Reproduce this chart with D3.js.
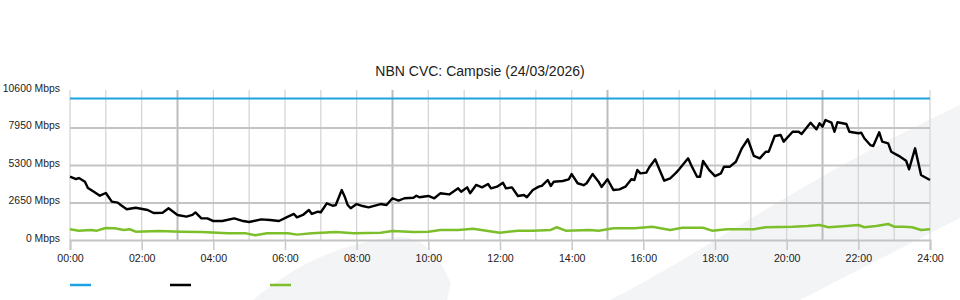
<!DOCTYPE html>
<html>
<head>
<meta charset="utf-8">
<script src="https://cdn.jsdelivr.net/npm/d3@7"></script>
<style>
  body { margin: 0; background: #fff; }
  svg text { font-family: "Liberation Sans", Arial, sans-serif; fill: #222; }
</style>
</head>
<body>
<svg id="chart" width="960" height="300"></svg>
<script>
"use strict";

const chartTitle = "NBN CVC: Campsie (24/03/2026)";

// y ticks in Mbps
const yTicks = [0, 2650, 5300, 7950, 10600];
// hour labels along the bottom
const xLabels = ["00:00", "02:00", "04:00", "06:00", "08:00", "10:00", "12:00",
                 "14:00", "16:00", "18:00", "20:00", "22:00", "24:00"];
const majorHours = [3, 9, 15, 21];

// CVC capacity (blue)
const capTimes = ["00:00", "24:00"];
const capValues = [10000, 10000];

// traffic (black)
const trafficTimes = ["00:00","00:10","00:15","00:25","00:30","00:40","00:50","01:00","01:10","01:20",
  "01:25","01:35","01:50","02:10","02:20","02:35","02:45","03:00","03:15","03:25","03:30","03:40",
  "03:50","04:00","04:15","04:35","04:50","05:00","05:20","05:35","05:50","06:05","06:15","06:20",
  "06:30","06:40","06:45","06:55","07:00","07:10","07:20","07:25","07:35","07:40","07:45","07:50",
  "08:00","08:10","08:20","08:40","08:50","09:00","09:10","09:20","09:35","09:40","09:45","10:00",
  "10:10","10:20","10:35","10:50","10:55","11:05","11:10","11:20","11:30","11:40","11:45","11:55",
  "12:05","12:10","12:20","12:30","12:40","12:45","12:55","13:05","13:10","13:20","13:25","13:30",
  "13:45","13:55","14:00","14:10","14:20","14:25","14:35","14:45","14:50","15:00","15:10","15:20",
  "15:30","15:40","15:45","15:50","15:55","16:05","16:10","16:20","16:25","16:35","16:45","16:55",
  "17:00","17:15","17:20","17:30","17:35","17:40","17:50","18:00","18:10","18:15","18:25","18:35",
  "18:45","18:55","19:05","19:15","19:25","19:30","19:40","19:50","19:55","20:10","20:20","20:25",
  "20:40","20:50","20:55","21:00","21:05","21:15","21:20","21:25","21:40","21:45","22:00","22:05",
  "22:10","22:20","22:25","22:35","22:40","22:50","22:55","23:10","23:20","23:25","23:35","23:45",
  "23:50","24:00"];
const trafficValues = [4470,4310,4380,4120,3680,3410,3130,3320,2710,2640,
  2470,2170,2280,2120,1910,1930,2240,1770,1650,1770,1950,1530,
  1530,1340,1340,1530,1340,1270,1460,1410,1340,1650,1840,1600,
  1770,2120,1840,2000,1960,2590,2420,2470,3530,3060,2470,2240,
  2540,2400,2310,2540,2470,2950,2780,2950,2990,3130,3020,3110,
  2950,3300,3220,3650,3410,3720,3300,3890,3720,3960,3650,3770,
  4050,3650,3720,3110,3180,3020,3530,3770,3820,4240,3820,4120,
  4170,4290,4660,4010,3870,4010,4660,4120,3750,4290,3530,3580,
  3770,4290,4240,4950,4710,4760,5140,5700,5180,4190,4360,4760,
  5000,5770,5300,4470,4470,5580,4950,4520,4710,5180,5180,5530,
  6480,7120,5940,5770,6240,6240,7350,7420,6950,7650,7650,7490,
  8290,7820,8250,8010,8480,8290,7650,8320,8200,7650,7540,7580,
  7190,6710,6640,7610,6950,6830,6240,5890,5600,5000,6480,4590,
  4470,4240];

// second series (green)
const greenTimes = ["00:00","00:15","00:35","00:45","01:00","01:15","01:30","01:40","01:50","02:30",
  "03:05","03:40","04:25","04:55","05:10","05:30","06:05","06:20","06:45","07:25","07:55","08:40",
  "09:00","09:35","10:00","10:20","10:50","11:15","11:40","12:00","12:30","12:55","13:25","13:35",
  "13:50","14:30","14:45","15:10","15:45","16:15","16:45","17:05","17:40","17:55","18:20","19:05",
  "19:25","20:10","20:35","20:55","21:10","21:40","22:00","22:10","22:30","22:50","23:00","23:15",
  "23:30","23:45","24:00"];
const greenValues = [760,660,710,660,850,830,710,760,590,640,
  590,570,470,470,330,470,470,380,470,570,470,520,
  640,570,590,710,710,800,640,520,660,660,710,900,
  660,710,660,830,830,940,710,870,870,660,760,760,
  900,940,990,1060,900,990,1060,900,990,1130,940,940,
  900,710,760];

function toMinutes(s) {
    let parts = s.split(":");
    return +parts[0] * 60 + +parts[1];
}

function zip(times, values) {
    return times.map((t, i) => ({ t: toMinutes(t), v: values[i] }));
}

const svg = d3.select("svg#chart");

// background swooshes
svg.append("path")
    .attr("d", "M610,300 C700,255 800,180 960,105 L960,218 L800,300 Z")
    .attr("fill", "#f3f4f6");
svg.append("path")
    .attr("d", "M253,300 C290,268 340,242 398,237 C420,236 438,252 451,284 L447,300 Z")
    .attr("fill", "#f3f4f6");

const xScale = d3.scaleLinear().domain([0, 1440]).range([70, 930]);
const yScale = d3.scaleLinear().domain([0, 10600]).range([240, 90]);

// vertical hour lines
const hours = d3.range(0, 25);
svg.append("g").selectAll("line")
    .data(hours)
    .join("line")
    .attr("x1", h => xScale(h * 60))
    .attr("x2", h => xScale(h * 60))
    .attr("y1", 90)
    .attr("y2", 240)
    .attr("stroke", h => majorHours.includes(h) ? "#bcbcbc" : "#d2d2d2")
    .attr("stroke-width", h => majorHours.includes(h) ? 2 : 1.2);

// x axis with labels every 2 hours
const xAxis = d3.axisBottom(xScale)
    .tickValues(xLabels.map(toMinutes))
    .tickFormat((d, i) => xLabels[i])
    .tickSize(10)
    .tickPadding(4);
const gx = svg.append("g").attr("transform", "translate(0,240)").call(xAxis);
gx.select(".domain").attr("stroke", "#c4c4c4").attr("stroke-width", 2);
gx.selectAll(".tick line").attr("stroke", "#c8c8c8").attr("stroke-width", 1.5);
gx.selectAll(".tick text").attr("font-size", 10.6).attr("fill", "#222");

// y axis with horizontal grid lines
const yAxis = d3.axisLeft(yScale)
    .tickValues(yTicks)
    .tickFormat(d => d + " Mbps")
    .tickSize(-860)
    .tickPadding(10);
const gy = svg.append("g").attr("transform", "translate(70,0)").call(yAxis);
gy.select(".domain").remove();
gy.selectAll(".tick line")
    .attr("stroke", "#c4c4c4")
    .attr("stroke-width", 2)
    .attr("display", d => (d === 0 || d === 10600) ? "none" : null);
gy.selectAll(".tick text")
    .attr("font-size", 10.4)
    .attr("fill", "#222")
    .attr("y", -2);

// title
svg.append("text")
    .attr("x", 480)
    .attr("y", 76)
    .attr("text-anchor", "middle")
    .attr("font-size", 14)
    .text(chartTitle);

const line = d3.line()
    .x(d => xScale(d.t))
    .y(d => yScale(d.v));

const series = [
    { data: zip(capTimes, capValues), color: "#1ea2e0", width: 2.2 },
    { data: zip(greenTimes, greenValues), color: "#7cbf2b", width: 2.5 },
    { data: zip(trafficTimes, trafficValues), color: "#000000", width: 2.4 }
];

svg.append("g").selectAll("path")
    .data(series)
    .join("path")
    .attr("d", s => line(s.data))
    .attr("fill", "none")
    .attr("stroke", s => s.color)
    .attr("stroke-width", s => s.width)
    .attr("stroke-linejoin", "round");

// legend swatches (no labels shown)
const legendColors = ["#1ea2e0", "#000000", "#7cbf2b"];
svg.append("g").selectAll("line")
    .data(legendColors)
    .join("line")
    .attr("x1", (c, i) => 70 + i * 100)
    .attr("x2", (c, i) => 91 + i * 100)
    .attr("y1", 285)
    .attr("y2", 285)
    .attr("stroke", c => c)
    .attr("stroke-width", 2.5);
</script>
</body>
</html>
